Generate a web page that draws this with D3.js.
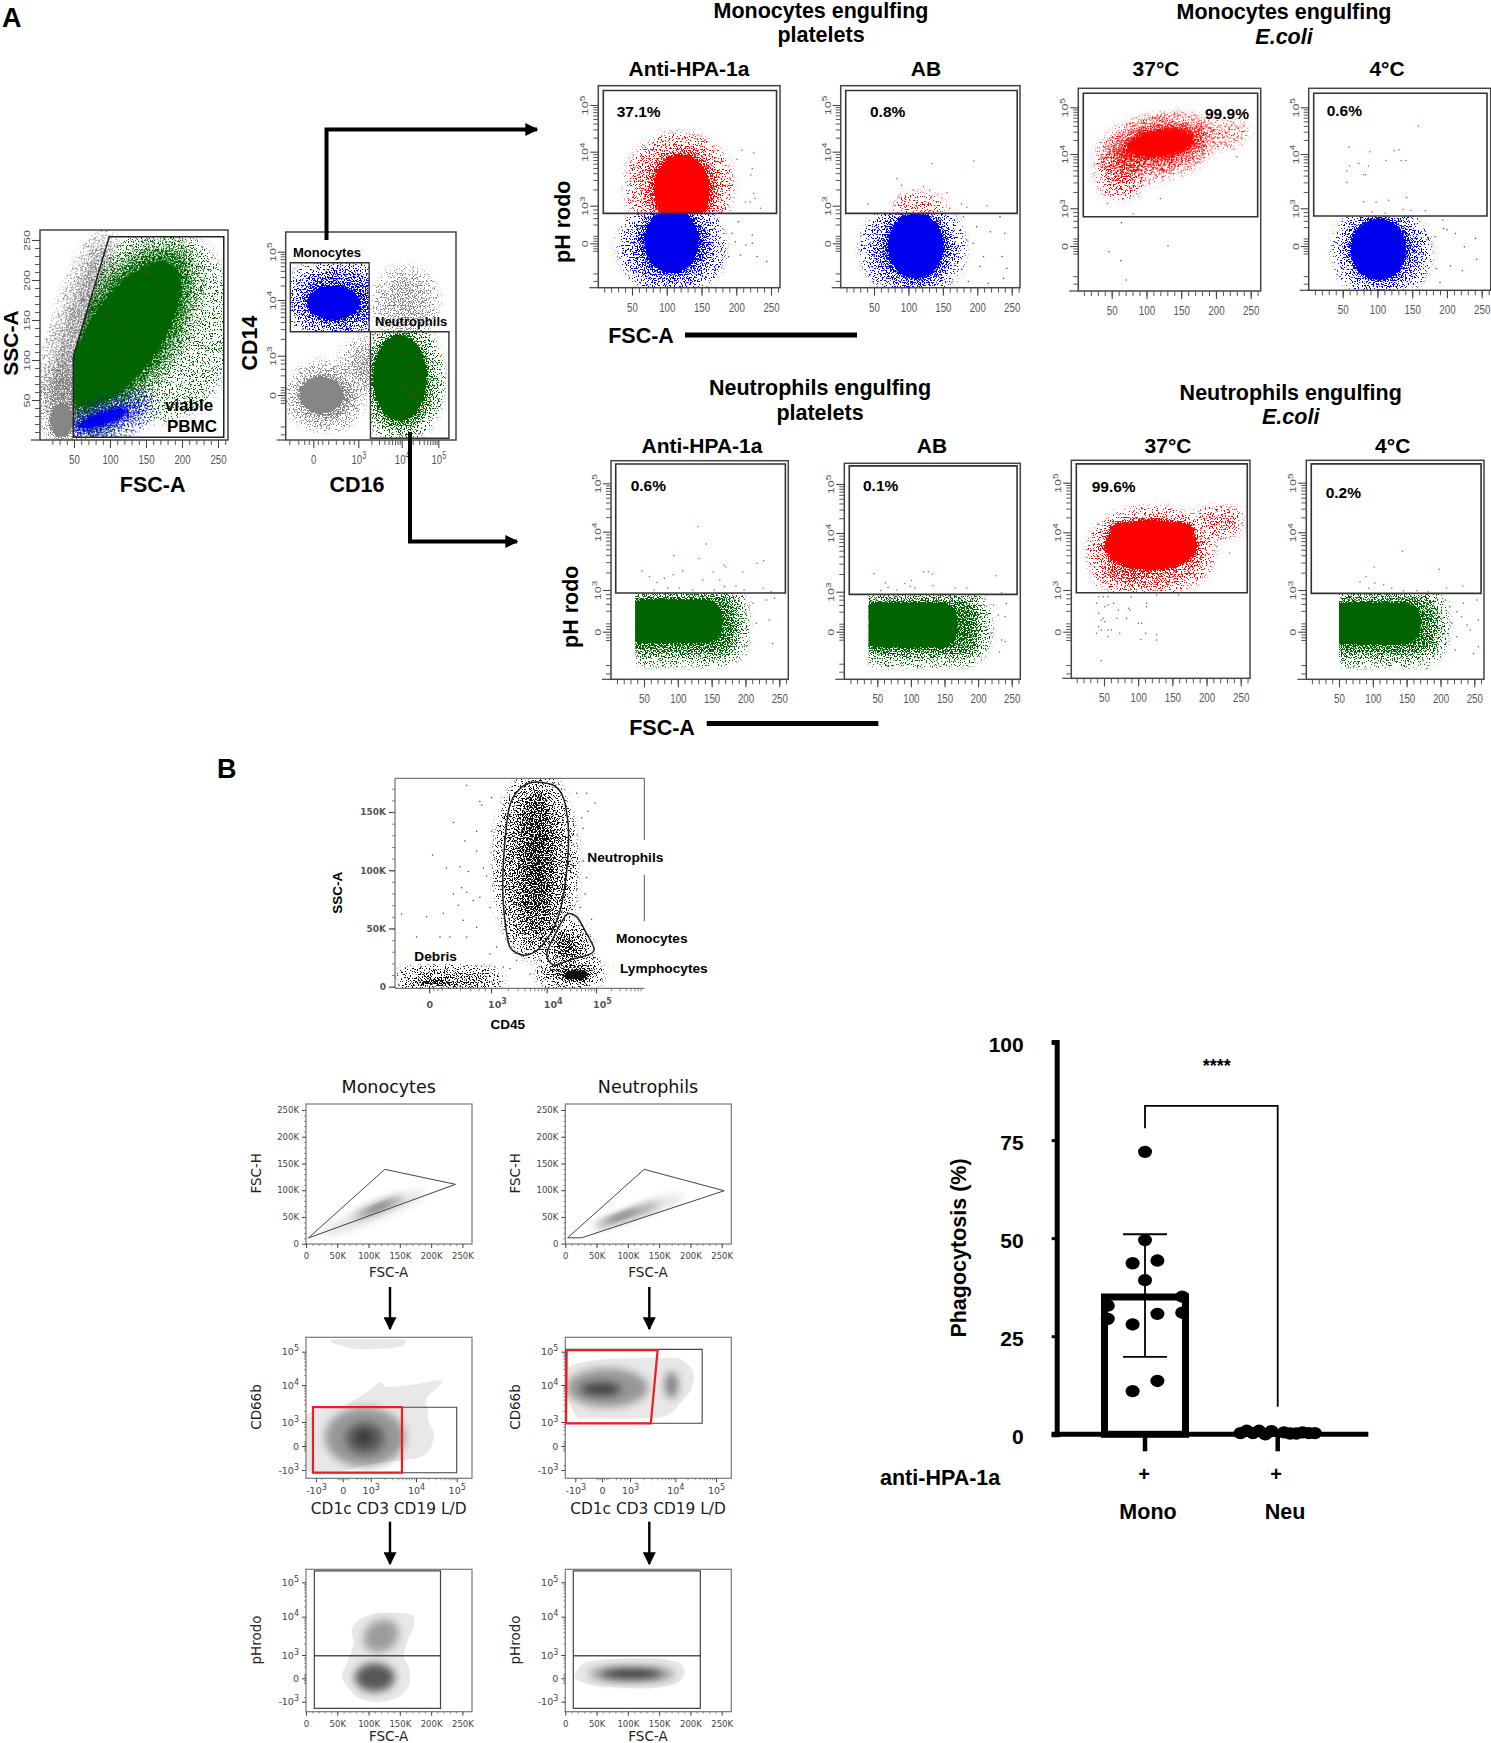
<!DOCTYPE html>
<html>
<head>
<meta charset="utf-8">
<title>Phagocytosis gating figure</title>
<script src="https://cdn.jsdelivr.net/npm/d3@7"></script>
<style>
  html, body { margin: 0; background: #fff; }
  svg { display: block; font-family: "Liberation Sans", Arial, sans-serif; }
</style>
</head>
<body>
<div id="chart"></div>
<script>
// ---- tick labels ----
const fscTicks = [50, 100, 150, 200, 250];
const fscMinor = d3.range(10, 261, 10);
const logTicks = [0, 3, 4, 5];
const logLabels = ['0', '10^3', '10^4', '10^5'];
const biexTicks = [-3, 0, 3, 4, 5];
const biexLabels = ['-10^3', '0', '10^3', '10^4', '10^5'];
const logMinor = [-3, -2.4, -0.6, -0.4, -0.2, 0.2, 0.4, 0.6, 1.5, 2, 2.4, 2.7]
  .concat(...[3, 4].map(d => [2, 3, 4, 5, 6, 7, 8, 9].map(k => d + Math.log10(k))));
const kTicks = [0, 50, 100, 150, 200, 250];
const kLabels = ['0', '50K', '100K', '150K', '200K', '250K'];

// ---- clouds: [xMin, xMax, yMin, yMax, rotation, density]; density 1 = solid core ----
// y values of the flow plots are in decades (3 = 10^3), 0 is the linear zero
const pbmcGray = [[-70, 181, 125, 167, -72, 0.8], [14, 70, 0, 90, 0, 0.9], [14, 52, 0, 50, 0, 1]];
const pbmcGreen = [[75, 265, 30, 260, 0, 0.22], [-20, 260, 70, 195, -56, 0.95], [0, 240, 84, 180, -56, 1], [50, 120, 5, 20, -15, 0.8]];
const pbmcBlue = [[40, 160, 10, 45, -20, 0.7], [50, 130, 17, 37, -18, 1]];
const cd14Gray = [[-1.3, 2.9, -2.1, 1.9, 0, 0.9], [2.2, 3.9, 0.5, 3.2, 0, 0.7], [3.5, 4.8, 3.43, 4.55, 0, 0.55], [-1.1, 2.2, -1.6, 1.6, 0, 1]];
const cd14Blue = [[-1.4, 3.6, 3.43, 4.7, 0, 0.7], [-1, 3.4, 3.5, 4.5, 0, 0.95], [-0.6, 3.1, 3.6, 4.35, 0, 1]];
const cd14Green = [[3.2, 4.9, -2.9, 3.5, 0, 0.9], [3.28, 4.75, -2.2, 3.42, 0, 1]];

const a1Blue = [[42, 172, -3.6, 3, 0, 0.6], [52, 163, -3, 3, 0, 0.95], [64, 150, -2.6, 2.9, 0, 1]];
const a1Red = [[50, 185, 1, 4.25, 0, 0.4], [68, 175, 1, 4.1, 0, 0.95], [78, 165, 1.2, 4, 0, 1]];
const a2Blue = [[42, 170, -3.6, 2.8, 0, 0.65], [55, 165, -3.4, 2.7, 0, 0.95], [66, 155, -3, 2.6, 0, 1]];
const a2Red = [[85, 147, 2.2, 3.1, 0, 0.4]];
const a3Red = [[35, 190, 3.65, 4.65, -14, 0.55], [55, 180, 3.85, 4.6, -10, 0.95], [70, 170, 3.92, 4.55, -8, 1], [38, 88, 3.3, 3.95, 0, 0.5], [165, 240, 4.25, 4.6, -4, 0.3]];
const a4Blue = [[49, 165, -3.6, 2.6, 0, 0.65], [52, 155, -3, 2.5, 0, 0.95], [58, 145, -2.9, 2.4, 0, 1]];

const a7Red = [[38, 200, 3.05, 4.35, 0, 0.6], [45, 130, 3.05, 3.9, 0, 0.75], [48, 190, 3.3, 4.3, 0, 1], [190, 243, 4.05, 4.35, 0, 0.75]];
const a5Bands = [[20, 190, -1.75, 2.8, 0.95], [20, 170, -1, 2.5, 1]];
const a6Bands = [[20, 205, -1.9, 2.6, 0.95], [20, 173, -1.37, 2.37, 1]];
const a7Bands = [[54, 186, 3.85, 4.25, 1]];
const a8Bands = [[30, 197, -1.8, 2.64, 0.95], [30, 175, -1.08, 2.28, 1]];

// ---- hand read events: [FSC, decade] ----
const pbmcRedDots = [[149,209],[105,215],[210,215],[246,227],[231,179],[220,147],[203,72],[149,108],[114,106],[84,85],[91,69],[100,158],[114,135],[144,121],[172,187],[186,246],[58,42],[105,48],[128,29],[146,62]];
const pbmcBlueDots = [[234,65],[151,54],[144,46]];
const cd14RedDots = [[4.23,3.22],[4.41,2.92],[4.59,2.67],[4.05,3.04],[4.32,1.9],[4.5,1.4],[4.18,0.64],[4.64,0.38],[4.36,-0.13],[4.23,-0.13],[4.73,-0.5],[4.55,-0.9],[4.41,-1.15],[4.32,-1.4],[4.59,-1.4],[4.5,-2],[3.35,3.37],[3.42,3.22],[3.96,3.31],[4.45,3.16],[4.14,2.16],[4.68,2.92],[4.55,-2.5]];
const a1RedDots = [[208,4.03],[225,3.98],[168,4.12],[201,3.86],[223,3.69],[221,3.57],[191,3.48],[225,3.23],[227,3.14],[220,3.07],[213,3.07],[235,2.8],[45,3.1],[52,3.17],[47,3.6],[64,3.88],[54,3.7]];
const a1BlueDots = [[203,1.72],[194,0.8],[199,0.13],[223,0.66],[230,-1.06],[244,-1.46],[214,-0.13],[206,-0.93],[223,0],[189,-1.06],[179,-0.53],[170,-2.12]];
const a2RedDots = [[134,3.78],[195,3.83],[83,3.5],[90,3.38],[107,3.29],[122,3.35],[131,3.29],[156,3.24],[41,3.03],[102,3.1],[177,3.03],[214,3],[185,2.87],[160,2.8]];
const a2BlueDots = [[180,2.12],[199,1.33],[219,0.93],[233,2.12],[240,0.8],[194,0],[236,-1.06],[243,-2],[238,-2.8],[209,-1.06],[180,-1.86],[204,-1.86],[170,-0.53],[185,0.27],[187,-3.05],[216,-3.18]];
const a3RedDots = [[81,2.55],[120,3.18],[44,3.09],[232,4.55],[240,4.6],[215,4.45],[226,4.1],[205,4.35],[195,4.5],[230,3.95],[185,4.42]];
const a3BlueDots = [[64,1.86],[46,-0.45],[63,-1.17],[71,-2.7],[75,-3.55],[131,0]];
const a4RedDots = [[159,4.6],[59,4.15],[89,4.05],[124,4.07],[131,4.09],[112,3.88],[134,3.88],[141,3.88],[73,3.83],[60,3.78],[87,3.78],[56,3.69],[80,3.62],[83,3.62],[56,3.48],[80,3.12],[98,3.11],[116,3.15],[142,3.2],[111,2.6],[137,2.9],[169,2.8],[148,2.85],[92,2.7]];
const a4BlueDots = [[194,2.07],[195,1.4],[200,1.3],[212,1],[241,0.6],[225,-0.05],[243,-1.06],[222,-1.96],[205,-1.6],[190,-2.9],[185,-1.8],[183,0.74],[178,-0.05],[171,0.5],[166,-0.6]];
const a5RedDots = [[130,4.1],[142,3.79],[131,3.54],[94,3.59],[47,3.33],[107,3.33],[93,3.26],[58,3.23],[80,3.2],[69,3.13],[168,3.43],[171,3.4],[196,3.31],[217,3.46],[227,3.5],[152,3.31],[137,3.17],[162,3.17],[169,3.06],[186,3.07],[226,3.03],[238,2.88],[122,3],[102,3.03],[65,3],[85,3.03],[154,3],[198,3]];
const a5GreenDots = [[201,1.32],[211,2.04],[231,2.28],[243,2.4],[240,-0.84],[201,-1.68],[235,0.84],[216,0.6],[191,2.28],[196,0.12],[184,-1.08],[61,-2.16],[38,-1.5],[132,-1.68]];
const a6RedDots = [[45,3.31],[126,3.34],[119,3.34],[132,3.3],[227,3.27],[62,3.15],[101,3.19],[91,3.14],[66,3.07],[99,3.09],[106,3.06],[133,3.1],[166,3.06],[183,3.06],[235,2.93],[55,3.02],[79,3.03]];
const a6GreenDots = [[242,2.12],[223,2],[230,1.25],[240,1.12],[220,-0.12],[235,-0.62],[240,-0.75],[232,-1.5],[195,-2.12],[153,-2.5],[205,1.12],[213,0.37]];
const a7RedDots = [[234,3.64],[205,3.32],[181,3.12],[125,3],[88,3],[39,3.08],[225,3.9],[215,3.75]];
const a7GreenDots = [[42,2.52],[49,2.52],[56,2.52],[39,2.04],[51,1.8],[56,1.92],[42,1.32],[49,0.96],[46,0.84],[51,0.72],[42,0.36],[46,0.12],[56,0.12],[61,0.12],[39,-0.12],[56,-0.36],[71,1.56],[69,0.96],[86,1.68],[88,1.56],[83,0.96],[90,2.52],[112,2.04],[112,1.8],[100,0.6],[105,0.6],[111,-0.12],[104,-0.55],[127,-0.24],[127,-0.6],[46,-2.09],[127,2.64],[159,2.64],[64,2.04],[73,-0.12]];
const a8RedDots = [[144,3.67],[102,3.4],[198,3.36],[90,3.23],[81,3.14],[103,3.12],[116,3.09],[94,3.03],[128,3.03],[145,2.95],[165,2.95],[182,2.88],[209,3.03],[233,3.07]];
const a8GreenDots = [[197,2.04],[214,1.8],[234,2.04],[254,2.28],[256,0.84],[244,0.12],[224,-0.36],[256,-1.08],[249,-1.56],[222,-1.32],[200,-1.8],[180,-2.64],[217,0.6],[204,0.36],[231,1.08],[239,0.48],[209,1.32],[224,1.44]];

// ---- panel B top scatter ----
const ssc45Ticks = [0, 50, 100, 150];
const ssc45Labels = ['0', '50K', '100K', '150K'];
const ssc45Clouds = [[3.2, 4.45, 30, 178, 0, 0.6], [3.35, 4.3, 38, 175, 0, 0.8], [3.5, 4.15, 52, 165, 0, 0.98], [3.6, 4.05, 65, 150, 0, 0.98], [4.05, 4.75, 18, 50, 0, 0.8], [3.95, 5, 3, 22, 0, 0.85], [4.27, 4.91, 4, 16, 0, 1], [-1.5, 3.1, 0, 10, 0, 0.95], [-0.9, 1.5, 1, 7, 0, 1]];
const ssc45Dots = [[1.82,172.7],[1.17,141],[2.46,159],[3.01,162.5],[2.54,156],[2.3,133.5],[1.73,125],[3.01,133.5],[0.16,113],[1.49,103],[0.84,102],[1.9,99],[2.63,102],[2.79,95],[1.17,79.5],[1.57,85],[1.82,81],[1.41,70],[2.14,74],[0.68,63],[-0.13,60],[-0.62,42.6],[0.52,42.6],[1.65,57],[2.3,51],[2.95,68],[-1.35,62.5],[2.3,116.5],[2.46,76.7],[4.61,166],[4.81,166],[4.98,157.7],[4.71,145],[4.54,130.7],[4.81,93.8],[4.61,83.8],[4.78,79.5],[4.91,58],[4.68,68],[4.74,136],[4.84,150.6],[4.47,108],[4.74,108],[5.01,11],[2.95,28],[3.1,34],[3.22,17],[3.34,15.6],[3.46,22.7],[3.7,11],[3.07,17],[2.79,8.5],[3.88,22.7],[4.07,21.3],[1.82,42.6],[1,42.6]];
const neutroGate = [[3.76,175.6],[4.135,173],[4.34,162],[4.44,136],[4.405,99],[4.27,65],[4.07,45],[3.82,31],[3.58,27],[3.34,34],[3.25,57],[3.21,85],[3.25,125],[3.34,156],[3.52,170]];
const monoGate = [[4.405,62],[4.61,60],[4.78,48],[4.96,33],[4.88,28],[4.47,23],[4.17,18.5],[4.03,23],[4.01,30],[4.17,45]];

// ---- density plots: blobs [xMin, xMax, yMin, yMax, rotation, shade], outlines in data units ----
const monoFscBlobs = [[17, 198, 44, 70, -22, 0.12], [73, 159, 62, 76, -22, 0.4], [95, 137, 67, 71, -24, 0.8]];
const neuFscBlobs = [[41, 195, 48, 72, -20, 0.12], [42, 154, 48, 59, -20, 0.45], [63, 117, 51, 56, -20, 0.65]];
const monoFscGate = [[3.7,10.6],[126,139],[239,111]];
const neuFscGate = [[3.7,11],[126,139],[254,99],[26,11]];
const monoCd66Outline = [[-4.12,-2.6],[-4.12,3.14],[-1.4,3.41],[0.25,3.46],[2.93,3.86],[3.2,4.09],[3.35,3.95],[3.87,4],[4.59,4.15],[4.59,4],[4.26,3.64],[4.3,3.23],[4.3,3.05],[4.44,1.58],[4.34,-0.5],[4.02,-1.54],[3.13,-2.17],[-0.3,-3.2],[-3.1,-3.33]];
const monoCd66Cap = [[-1.05,5.37],[3.7,5.37],[3.72,5.2],[3.42,5.1],[1.57,5.07],[-0.3,5.2],[-1,5.25]];
const monoCd66Blobs = [[-2, 3.76, -2.6, 3.4, 0, 0.35], [0.3, 3.3, -1, 2.9, 0, 0.4], [1.4, 3, 0.2, 2, 0, 0.4]];
const neuCd66Outline = [[-3.97,4.5],[-0.6,4.75],[3,4.8],[4.03,4.8],[4.36,4.55],[4.46,4.25],[4.36,3.82],[4.07,3.46],[3.99,3.32],[3.73,3.14],[3.42,3.1],[-1.8,3.1],[-2.85,3.14],[-3.97,3.7]];
const neuCd66Blobs = [[-4, 3.4, 3.4, 4.5, 0, 0.35], [-2.36, 2, 3.72, 4.06, 0, 0.6], [3.77, 4.07, 3.64, 4.4, 0, 0.45]];
const monoPhOutline = [[57,0.43],[65,1.93],[76,3.3],[73,3.65],[84,3.91],[113,4.1],[156,4.1],[172,4],[172,3.74],[161,3.3],[156,2.79],[164,1.5],[166,-0.64],[150,-2.36],[113,-3.1],[81,-2.36],[62,-0.64]];
const monoPhBlobs = [[78, 142, -1.7, 1.93, 0, 0.62], [90, 150, 3.1, 3.9, -35, 0.32]];
const neuPhOutline = [[15,0.43],[29,1.93],[66,2.44],[146,2.57],[183,1.93],[191,0.64],[178,-0.64],[135,-1.29],[61,-1.07],[23.5,-0.43]];
const neuPhBlobs = [[37, 175, -0.5, 1.6, 0, 0.35], [58, 154, 0.13, 1, 0, 0.8]];

// ---- bar chart ----
const barGroups = ['Mono', 'Neu'];
const barMeans = [35, 0];
const monoErr = [19.75, 51];
const monoPhago = [72, 49.5, 43.6, 44.3, 39.3, 35.1, 32.8, 29.4, 30.7, 31, 28, 13.6, 11];
const monoColumn = [0, 0, -1, 1, 0, 3, -3, -3, 1, 3, -1, 1, -1];
const neuPhago = [0.3, 0.9, 0.3, 0.9, 0.8, 0, 0.2, 0.5, 0.3, 0.3, 0.5, 0.2];
const neuColumn = [-3, -2.5, -2, -1.5, -0.5, -1, 1, 2, 2.5, 3, 0.5, 1.5];
const phagoTicks = [0, 25, 50, 75, 100];

// ---- setup ----
const W = 1491, H = 1743;
const svg = d3.select('#chart').append('svg').attr('width', W).attr('height', H);
const defs = svg.append('defs');
const FLOW = { red: '#ff0000', blue: '#0000f0', green: '#006400', gray: '#868686', black: '#111111' };

// speckled texture so a blurred ellipse reads like a cloud of single events
// alpha = gain * blurred + grain - 1, grain stays in 0..1 so nothing shows outside the ellipse
function speckle(id, color, sigma, slope, offset, gain) {
  const f = defs.append('filter').attr('id', id)
    .attr('x', '-100%').attr('y', '-100%').attr('width', '300%').attr('height', '300%')
    .attr('color-interpolation-filters', 'sRGB');
  f.append('feGaussianBlur').attr('in', 'SourceAlpha').attr('stdDeviation', sigma).attr('result', 'soft');
  f.append('feTurbulence').attr('type', 'fractalNoise').attr('baseFrequency', 0.75)
    .attr('numOctaves', 1).attr('seed', 7).attr('result', 'noise');
  f.append('feColorMatrix').attr('in', 'noise').attr('type', 'matrix')
    .attr('values', `0 0 0 0 0  0 0 0 0 0  0 0 0 0 0  ${slope} 0 0 0 ${offset}`).attr('result', 'grain');
  f.append('feComposite').attr('in', 'soft').attr('in2', 'grain').attr('operator', 'arithmetic')
    .attr('k1', 0).attr('k2', gain).attr('k3', 1).attr('k4', -1).attr('result', 'mix');
  f.append('feComponentTransfer').attr('in', 'mix').attr('result', 'hard')
    .append('feFuncA').attr('type', 'linear').attr('slope', 14);
  f.append('feFlood').attr('flood-color', color).attr('result', 'paint');
  f.append('feComposite').attr('in', 'paint').attr('in2', 'hard').attr('operator', 'in');
}
Object.keys(FLOW).forEach(k => {
  speckle(`halo-${k}`, FLOW[k], 7, 5, -2.15, 1);
  speckle(`core-${k}`, FLOW[k], 3, 3, -1.2, 1.3);
});
const blur = defs.append('filter').attr('id', 'smooth').attr('x', '-100%').attr('y', '-100%').attr('width', '300%').attr('height', '300%');
blur.append('feGaussianBlur').attr('stdDeviation', 4);
const blurEdge = defs.append('filter').attr('id', 'edge');
blurEdge.append('feGaussianBlur').attr('stdDeviation', 0.7);
defs.append('marker').attr('id', 'tip').attr('markerUnits', 'userSpaceOnUse')
  .attr('viewBox', '0 0 10 10').attr('refX', 9).attr('refY', 5)
  .attr('markerWidth', 13).attr('markerHeight', 13).attr('orient', 'auto')
  .append('path').attr('d', 'M0,0L10,5L0,10Z').attr('fill', '#000');

function txt(x, y, s, o = {}) {
  const t = svg.append('text').attr('x', x).attr('y', y).text(s)
    .attr('font-size', o.size || 21.5).attr('font-weight', o.weight || 'bold')
    .attr('text-anchor', o.anchor || 'middle').attr('fill', o.fill || '#000');
  if (o.italic) t.attr('font-style', 'italic');
  if (o.family) t.attr('font-family', o.family);
  if (o.rot) t.attr('transform', `rotate(${o.rot},${x},${y})`);
  return t;
}

// "10^3" -> 10 + raised 3
function powLabel(sel, labels, small) {
  sel.selectAll('.tick text').each(function (d, i) {
    const t = d3.select(this).text(null);
    const p = labels[i].split('^');
    t.append('tspan').text(p[0]);
    if (p[1]) t.append('tspan').attr('dy', '-0.5em').attr('font-size', small).text(p[1]);
  });
}

function clipFrom(poly, xs, ys, id) {
  defs.append('clipPath').attr('id', id).append('polygon')
    .attr('points', poly.map(d => `${xs(d[0])},${ys(d[1])}`).join(' '));
}

// ellipse extents are in data units, the axes are piecewise so work from the pixel ends
const midX = (xs, d) => (xs(d[0]) + xs(d[1])) / 2;
const midY = (ys, d) => (ys(d[2]) + ys(d[3])) / 2;

let clipCount = 0;
function drawLayer(box, xs, ys, layer) {
  const id = `clip${clipCount++}`;
  if (layer.clip) clipFrom(layer.clip, xs, ys, id);
  else defs.append('clipPath').attr('id', id).append('rect')
    .attr('x', box[0]).attr('y', box[1]).attr('width', box[2] - box[0]).attr('height', box[3] - box[1]);
  const g = svg.append('g').attr('clip-path', `url(#${id})`);
  g.selectAll('rect.band').data(layer.bands || []).join('rect').attr('class', 'band')
    .attr('x', d => xs(d[0])).attr('y', d => ys(d[3]))
    .attr('width', d => xs(d[1]) - xs(d[0])).attr('height', d => ys(d[2]) - ys(d[3]))
    .attr('rx', 20).attr('fill', FLOW[layer.color]).attr('fill-opacity', d => d[4])
    .attr('filter', d => `url(#${d[4] === 1 ? 'core' : 'halo'}-${layer.color})`);
  g.selectAll('ellipse').data(layer.clouds || []).join('ellipse')
    .attr('cx', d => midX(xs, d)).attr('cy', d => midY(ys, d))
    .attr('rx', d => Math.abs(xs(d[1]) - xs(d[0])) / 2).attr('ry', d => Math.abs(ys(d[2]) - ys(d[3])) / 2)
    .attr('transform', d => `rotate(${d[4]},${midX(xs, d)},${midY(ys, d)})`)
    .attr('fill', FLOW[layer.color]).attr('fill-opacity', d => d[5])
    .attr('filter', d => `url(#${d[5] === 1 ? 'core' : 'halo'}-${layer.color})`);
  svg.selectAll(null).data(layer.dots || []).join('circle')
    .attr('cx', d => xs(d[0])).attr('cy', d => ys(d[1])).attr('r', 0.75)
    .attr('fill', FLOW[layer.color]).attr('fill-opacity', 0.8);
}

function axisStyle(sel, color, width) {
  sel.select('.domain').remove();
  sel.selectAll('line').attr('stroke', color).attr('stroke-width', width);
}

// frame + ticks of the FACS panels in part A
function flowAxes(box, xs, ys, cfg) {
  svg.append('rect').attr('x', box[0]).attr('y', box[1]).attr('width', box[2] - box[0]).attr('height', box[3] - box[1])
    .attr('fill', 'none').attr('stroke', '#444').attr('stroke-width', 1.5);
  svg.append('line').attr('x1', box[0] - 9).attr('x2', box[0]).attr('y1', box[3]).attr('y2', box[3]).attr('stroke', '#444').attr('stroke-width', 1.2);
  const bx = svg.append('g').attr('transform', `translate(0,${box[3]})`);
  bx.append('g').call(d3.axisBottom(xs).tickValues(cfg.xMinor).tickSize(5).tickFormat('')).call(axisStyle, '#555', 1);
  const gx = bx.append('g').call(d3.axisBottom(xs).tickValues(cfg.xTicks).tickSize(8).tickFormat((d, i) => cfg.xLabels[i]));
  gx.call(axisStyle, '#444', 1.1);
  // the original tick text is squashed sideways on both axes (narrow glyphs, flat when rotated)
  gx.selectAll('text').attr('font-size', 13.5).attr('fill', '#555').attr('y', 16).attr('dy', '0.6em').attr('transform', 'scale(0.72,1)');
  if (cfg.xLabels.some(l => l.includes('^'))) powLabel(gx, cfg.xLabels, 10);
  const ly = svg.append('g').attr('transform', `translate(${box[0]},0)`);
  ly.append('g').call(d3.axisLeft(ys).tickValues(cfg.yMinor).tickSize(cfg.yMinorSize || 5).tickFormat('')).call(axisStyle, '#555', 1);
  const gy = ly.append('g').call(d3.axisLeft(ys).tickValues(cfg.yTicks).tickSize(8).tickFormat((d, i) => cfg.yLabels[i]));
  gy.call(axisStyle, '#444', 1.1);
  gy.selectAll('text').attr('transform', 'rotate(-90) scale(1,0.72)').attr('x', 0).attr('y', -14).attr('dy', 0)
    .attr('text-anchor', 'middle').attr('font-size', 12.5).attr('fill', '#555');
  if (cfg.yLabels.some(l => l.includes('^'))) powLabel(gy, cfg.yLabels, 10);
}

// ---- A: viable PBMC and CD14/CD16 ----
{
  const box = [40, 230, 228, 440];
  const xs = d3.scaleLinear().domain([50, 250]).range([74, 218]);
  const ys = d3.scaleLinear().domain([0, 250]).range([440, 240]);
  const gate = [[49, 3.3], [49, 104], [99, 254], [258, 254], [258, 3.3]];
  drawLayer(box, xs, ys, { color: 'gray', clouds: pbmcGray });
  drawLayer(box, xs, ys, { color: 'green', clouds: pbmcGreen, clip: gate });
  drawLayer(box, xs, ys, { color: 'blue', clouds: pbmcBlue, dots: pbmcBlueDots, clip: gate });
  drawLayer(box, xs, ys, { color: 'red', dots: pbmcRedDots });
  flowAxes(box, xs, ys, { xTicks: fscTicks, xLabels: fscTicks.map(String), xMinor: fscMinor.slice(1), yTicks: fscTicks, yLabels: fscTicks.map(String), yMinor: d3.range(10, 260, 10) });
  svg.append('polygon').attr('points', gate.map(d => `${xs(d[0])},${ys(d[1])}`).join(' '))
    .attr('fill', 'none').attr('stroke', '#222').attr('stroke-width', 1.5);
  txt(17.5, 343, 'SSC-A', { rot: -90, size: 21 });
  txt(152.7, 491.7, 'FSC-A');
  txt(189, 410.7, 'viable', { size: 17 });
  txt(192, 431.7, 'PBMC', { size: 17 });
}
{
  const box = [285.7, 232, 456, 440];
  const xs = d3.scaleLinear().domain([0, 3, 4, 5]).range([313.3, 358.3, 401.7, 438.3]);
  const ys = d3.scaleLinear().domain([0, 3, 4, 5]).range([395, 355.7, 300, 251.7]);
  const monoRect = [[-1.53, 4.77], [3.25, 4.77], [3.25, 3.43], [-1.53, 3.43]];
  const neuRect = [[3.28, 3.43], [5.29, 3.43], [5.29, -3.3], [3.28, -3.3]];
  drawLayer(box, xs, ys, { color: 'gray', clouds: cd14Gray });
  drawLayer(box, xs, ys, { color: 'blue', clouds: cd14Blue, clip: monoRect });
  drawLayer(box, xs, ys, { color: 'green', clouds: cd14Green, clip: neuRect });
  drawLayer(box, xs, ys, { color: 'red', dots: cd14RedDots });
  const xMinor = [-1.6, -1, -0.6, -0.3, 0.3, 0.6, 1, 1.5, 2, 2.4, 2.7].concat(...[3, 4].map(d => [2, 3, 4, 5, 6, 7, 8, 9].map(k => d + Math.log10(k))));
  flowAxes(box, xs, ys, { xTicks: logTicks, xLabels: logLabels, xMinor, yTicks: logTicks, yLabels: logLabels, yMinor: logMinor });
  [monoRect, neuRect].forEach(r => svg.append('polygon').attr('points', r.map(d => `${xs(d[0])},${ys(d[1])}`).join(' '))
    .attr('fill', 'none').attr('stroke', '#333').attr('stroke-width', 1.4));
  txt(257, 343, 'CD14', { rot: -90 });
  txt(357, 492, 'CD16');
  txt(293, 256.7, 'Monocytes', { size: 13, anchor: 'start' });
  txt(375, 326, 'Neutrophils', { size: 13, anchor: 'start' });
}

// ---- A: pHrodo panels ----
const panelsA = [
  { box: [598.3, 85.7, 780, 287.7], x: [632, 771], y: [243.3, 205.7, 151.7, 105], gate: [8.7, 258, 2.39, 5.31], minX: 0, pct: ['37.1%', 616.7, 117.3],
    under: { color: 'blue', clouds: a1Blue, dots: a1BlueDots }, upper: { color: 'red', clouds: a1Red, dots: a1RedDots } },
  { box: [840.7, 85.7, 1020, 287.7], x: [874, 1011.7], y: [243.3, 205.7, 151.7, 105], gate: [8.9, 258, 2.39, 5.31], minX: 0, pct: ['0.8%', 870, 117.3],
    under: { color: 'blue', clouds: a2Blue, dots: a2BlueDots }, upper: { color: 'red', clouds: a2Red, dots: a2RedDots } },
  { box: [1078.3, 88.3, 1260.7, 291], x: [1111.7, 1250.7], y: [246, 208.3, 154, 107.3], gate: [9.1, 260, 2.33, 5.3], minX: 0, pct: ['99.9%', 1205, 119],
    under: { color: 'blue', dots: a3BlueDots }, upper: { color: 'red', clouds: a3Red, dots: a3RedDots } },
  { box: [1308.7, 88.3, 1490.7, 290.3], x: [1342.7, 1481.7], y: [246, 208.3, 154, 107.3], gate: [8.3, 257.6, 2.39, 5.3], minX: 0, pct: ['0.6%', 1326.7, 116],
    under: { color: 'blue', clouds: a4Blue, dots: a4BlueDots }, upper: { color: 'red', dots: a4RedDots } },
  { box: [611, 460.7, 788.3, 679.3], x: [644, 779.3], y: [631.7, 590, 531.7, 483.3], gate: [8.2, 259, 2.78, 5.4], minX: 37, pct: ['0.6%', 630.7, 490.7],
    under: { color: 'green', bands: a5Bands, dots: a5GreenDots }, upper: { color: 'red', dots: a5RedDots } },
  { box: [844.3, 463.3, 1020.3, 679.3], x: [877.3, 1011.7], y: [631.7, 591.7, 533, 484], gate: [8.3, 258, 2.8, 5.37], minX: 37, pct: ['0.1%', 863, 490.7],
    under: { color: 'green', bands: a6Bands, dots: a6GreenDots }, upper: { color: 'red', dots: a6RedDots } },
  { box: [1071.3, 460.3, 1250, 678.3], x: [1104, 1240.7], y: [631.7, 590, 532.3, 482.7], gate: [9.5, 259.6, 2.8, 5.38], minX: 0, pct: ['99.6%', 1091.7, 492],
    under: { color: 'green', dots: a7GreenDots }, upper: { color: 'red', clouds: a7Red, bands: a7Bands, dots: a7RedDots } },
  { box: [1306.3, 460.3, 1484, 679.3], x: [1339, 1474.3], y: [631.7, 590, 532.3, 482.7], gate: [9, 260, 2.76, 5.38], minX: 50, pct: ['0.2%', 1325.7, 498],
    under: { color: 'green', bands: a8Bands, dots: a8GreenDots }, upper: { color: 'red', dots: a8RedDots } }
];

panelsA.forEach(p => {
  const xs = d3.scaleLinear().domain([50, 250]).range(p.x);
  const ys = d3.scaleLinear().domain(logTicks).range(p.y);
  const bottom = ys.invert(p.box[3]), g = p.gate;
  const upperClip = [[g[0], g[3]], [g[1], g[3]], [g[1], g[2]], [g[0], g[2]]];
  const underClip = [[p.minX || g[0] - 9, g[2]], [g[1] + 9, g[2]], [g[1] + 9, bottom], [p.minX || g[0] - 9, bottom]];
  drawLayer(p.box, xs, ys, Object.assign({}, p.under, { clip: underClip }));
  drawLayer(p.box, xs, ys, Object.assign({}, p.upper, { clip: upperClip }));
  flowAxes(p.box, xs, ys, { xTicks: fscTicks, xLabels: fscTicks.map(String), xMinor: fscMinor, yTicks: logTicks, yLabels: logLabels, yMinor: logMinor });
  svg.append('polygon').attr('points', upperClip.map(d => `${xs(d[0])},${ys(d[1])}`).join(' '))
    .attr('fill', 'none').attr('stroke', '#333').attr('stroke-width', 1.6);
  txt(p.pct[1], p.pct[2], p.pct[0], { size: 15.5, anchor: 'start' });
});

txt(2, 27, 'A', { size: 27, anchor: 'start' });
txt(821, 18, 'Monocytes engulfing');
txt(821, 41.7, 'platelets');
txt(1284, 19.3, 'Monocytes engulfing');
txt(1284, 44.3, 'E.coli', { italic: true });
txt(689, 75.7, 'Anti-HPA-1a', { size: 21 });
txt(926, 75.7, 'AB', { size: 21 });
txt(1156, 75.7, '37°C', { size: 21 });
txt(1387, 75.7, '4°C', { size: 21 });
txt(570, 221.7, 'pH rodo', { rot: -90 });
txt(641, 343, 'FSC-A');
svg.append('rect').attr('x', 685).attr('y', 332.5).attr('width', 172).attr('height', 5);

txt(820, 395, 'Neutrophils engulfing');
txt(820, 420, 'platelets');
txt(1290.7, 400, 'Neutrophils engulfing');
txt(1290.7, 424.3, 'E.coli', { italic: true });
txt(702, 453, 'Anti-HPA-1a', { size: 21 });
txt(932, 453, 'AB', { size: 21 });
txt(1168, 453, '37°C', { size: 21 });
txt(1392.7, 453, '4°C', { size: 21 });
txt(578, 606.7, 'pH rodo', { rot: -90 });
txt(662, 735, 'FSC-A');
svg.append('rect').attr('x', 706.7).attr('y', 721).attr('width', 171.6).attr('height', 5);

// gating arrows
svg.append('path').attr('d', 'M326.5,240V129.5H537').attr('fill', 'none').attr('stroke', '#000').attr('stroke-width', 4).attr('marker-end', 'url(#tip)');
svg.append('path').attr('d', 'M410,432V541.5H517').attr('fill', 'none').attr('stroke', '#000').attr('stroke-width', 4).attr('marker-end', 'url(#tip)');

// ---- B: SSC / CD45 ----
txt(217, 778, 'B', { size: 27, anchor: 'start' });
{
  const box = [395, 778.3, 644.3, 988.3];
  const xs = d3.scaleLinear().domain([0, 3, 4, 5]).range([429.3, 491, 546.7, 596]);
  const ys = d3.scaleLinear().domain([0, 150]).range([986.7, 812]);
  drawLayer(box, xs, ys, { color: 'black', clouds: ssc45Clouds, dots: ssc45Dots });
  svg.append('path').attr('d', `M${box[0]},${box[3]}V${box[1]}H${box[2]}V921`).attr('fill', 'none').attr('stroke', '#555').attr('stroke-width', 1);
  svg.append('rect').attr('x', 585).attr('y', 840).attr('width', 80).attr('height', 35).attr('fill', '#fff');
  svg.append('line').attr('x1', box[0]).attr('x2', box[2]).attr('y1', box[3]).attr('y2', box[3]).attr('stroke', '#555');
  const line = d3.line().x(d => xs(d[0])).y(d => ys(d[1])).curve(d3.curveCardinalClosed.tension(0.2));
  [neutroGate, monoGate].forEach(g => svg.append('path').attr('d', line(g)).attr('fill', 'none').attr('stroke', '#222').attr('stroke-width', 1.5));
  const gy = svg.append('g').attr('transform', `translate(${box[0]},0)`)
    .call(d3.axisLeft(ys).tickValues(ssc45Ticks).tickSize(6).tickFormat((d, i) => ssc45Labels[i]));
  gy.call(axisStyle, '#444', 1.2);
  gy.selectAll('text').attr('font-family', '"DejaVu Sans"').attr('font-size', 9).attr('font-weight', 'bold').attr('fill', '#555');
  svg.append('g').attr('transform', `translate(${box[0]},0)`)
    .call(d3.axisLeft(ys).tickValues(d3.range(0, 176, 10)).tickSize(3).tickFormat('')).call(axisStyle, '#666', 0.8);
  const gx = svg.append('g').attr('transform', `translate(0,${box[3]})`)
    .call(d3.axisBottom(xs).tickValues(logTicks).tickSize(5).tickFormat((d, i) => logLabels[i]));
  gx.call(axisStyle, '#444', 1.2);
  gx.selectAll('text').attr('font-family', '"DejaVu Sans"').attr('font-size', 9.5).attr('font-weight', 'bold').attr('fill', '#555').attr('y', 13).attr('dx', 6);
  powLabel(gx, logLabels, 8);
  gx.selectAll('.tick text').filter((d, i) => i === 0).attr('dx', 0);
  svg.append('g').attr('transform', `translate(0,${box[3]})`)
    .call(d3.axisBottom(xs).tickValues(logMinor.filter(d => d > 0).concat(...[5].map(d => [2, 3, 4, 5, 6, 7, 8].map(k => d + Math.log10(k))))).tickSize(3).tickFormat('')).call(axisStyle, '#666', 0.8);
  txt(341.7, 892.7, 'SSC-A', { size: 13.5, rot: -90 });
  txt(507.7, 1029.3, 'CD45', { size: 13.5 });
  txt(587.3, 861.7, 'Neutrophils', { size: 13.7, anchor: 'start' });
  txt(616, 943.3, 'Monocytes', { size: 13.7, anchor: 'start' });
  txt(620, 973.3, 'Lymphocytes', { size: 13.7, anchor: 'start' });
  txt(414.3, 961, 'Debris', { size: 13.7, anchor: 'start' });
}

// ---- B: density plots ----
const PANEL_LAB = '"DejaVu Sans", sans-serif';
function densityPanel(dx, row, cfg) {
  const box = [306 + dx, row.top, 472 + dx, row.bottom];
  const xs = d3.scaleLinear().domain(row.xDom).range(row.xRange.map(v => v + dx));
  const ys = d3.scaleLinear().domain(row.yDom).range(row.yRange);
  const id = `clip${clipCount++}`;
  defs.append('clipPath').attr('id', id).append('rect').attr('x', box[0]).attr('y', box[1]).attr('width', box[2] - box[0]).attr('height', box[3] - box[1]);
  const g = svg.append('g').attr('clip-path', `url(#${id})`);
  const outline = d3.line().x(d => xs(d[0])).y(d => ys(d[1])).curve(d3.curveCardinalClosed.tension(0.3));
  (cfg.outlines || []).forEach(o => g.append('path').attr('d', outline(o)).attr('fill', '#e8e8e8').attr('filter', 'url(#edge)'));
  g.selectAll('ellipse').data(cfg.blobs).join('ellipse')
    .attr('cx', d => midX(xs, d)).attr('cy', d => midY(ys, d))
    .attr('rx', d => Math.abs(xs(d[1]) - xs(d[0])) / 2).attr('ry', d => Math.abs(ys(d[2]) - ys(d[3])) / 2)
    .attr('transform', d => `rotate(${d[4]},${midX(xs, d)},${midY(ys, d)})`)
    .attr('fill', '#000').attr('fill-opacity', d => d[5]).attr('filter', 'url(#smooth)');
  svg.append('rect').attr('x', box[0]).attr('y', box[1]).attr('width', box[2] - box[0]).attr('height', box[3] - box[1])
    .attr('fill', 'none').attr('stroke', '#777').attr('stroke-width', 1.2);

  const styleLab = s => s.selectAll('text').attr('font-family', PANEL_LAB).attr('font-size', 8.5).attr('fill', '#444');
  const gx = svg.append('g').attr('transform', `translate(0,${box[3]})`)
    .call(d3.axisBottom(xs).tickValues(row.xTicks).tickSize(4).tickFormat((d, i) => row.xLabels[i]));
  gx.call(axisStyle, '#444', 1).call(styleLab);
  gx.selectAll('text').attr('y', 9);
  if (row.xLabels.some(l => l.includes('^'))) { powLabel(gx, row.xLabels, 8); gx.selectAll('text').attr('font-size', 9.5); }
  svg.append('g').attr('transform', `translate(0,${box[3]})`)
    .call(d3.axisBottom(xs).tickValues(row.xMinor).tickSize(2).tickFormat('')).call(axisStyle, '#666', 0.7);
  const gy = svg.append('g').attr('transform', `translate(${box[0]},0)`)
    .call(d3.axisLeft(ys).tickValues(row.yTicks).tickSize(4).tickFormat((d, i) => row.yLabels[i]));
  gy.call(axisStyle, '#444', 1).call(styleLab);
  if (row.yLabels.some(l => l.includes('^'))) { powLabel(gy, row.yLabels, 8); gy.selectAll('text').attr('font-size', 9.5); }
  svg.append('g').attr('transform', `translate(${box[0]},0)`)
    .call(d3.axisLeft(ys).tickValues(row.yMinor).tickSize(2).tickFormat('')).call(axisStyle, '#666', 0.7);

  (cfg.gates || []).forEach(q => svg.append('polygon').attr('points', q.pts.map(d => `${xs(d[0])},${ys(d[1])}`).join(' '))
    .attr('fill', 'none').attr('stroke', q.color).attr('stroke-width', q.width));
  txt(388.7 + dx, row.labelY, row.xTitle, { size: row.xTitleSize, weight: 'normal', family: PANEL_LAB, fill: '#222' });
  txt(262 - 1 + dx, row.yTitleY, row.yTitle, { size: 13.5, weight: 'normal', family: PANEL_LAB, fill: '#222', rot: -90 });
}

const rowFsc = { top: 1104, bottom: 1244, xDom: [0, 250], xRange: [306, 462.4], yDom: [0, 250], yRange: [1243.7, 1110],
  xTicks: kTicks, xLabels: kLabels, xMinor: d3.range(10, 260, 10), yTicks: kTicks, yLabels: kLabels, yMinor: d3.range(10, 260, 10),
  labelY: 1276.7, xTitle: 'FSC-A', xTitleSize: 13.5, yTitleY: 1173.3, yTitle: 'FSC-H' };
const rowCd66 = { top: 1337.3, bottom: 1478.3, xDom: biexTicks, xRange: [316, 342.7, 370.7, 416, 456.7], yDom: biexTicks, yRange: [1470, 1446, 1422, 1385, 1351.7],
  xTicks: biexTicks, xLabels: biexLabels, xMinor: logMinor, yTicks: biexTicks, yLabels: biexLabels, yMinor: logMinor,
  labelY: 1514, xTitle: 'CD1c CD3 CD19 L/D', xTitleSize: 15.4, yTitleY: 1407, yTitle: 'CD66b' };
const rowPh = { top: 1569.3, bottom: 1711.7, xDom: [0, 250], xRange: [306, 462.4], yDom: biexTicks, yRange: [1701.7, 1678.3, 1655, 1616.7, 1582.3],
  xTicks: kTicks, xLabels: kLabels, xMinor: d3.range(10, 260, 10), yTicks: biexTicks, yLabels: biexLabels, yMinor: logMinor,
  labelY: 1741, xTitle: 'FSC-A', xTitleSize: 13.5, yTitleY: 1640, yTitle: 'pHrodo' };
const NEU_DX = 259.3;

densityPanel(0, rowFsc, { blobs: monoFscBlobs, gates: [{ pts: monoFscGate, color: '#444', width: 1 }] });
densityPanel(NEU_DX, rowFsc, { blobs: neuFscBlobs, gates: [{ pts: neuFscGate, color: '#444', width: 1 }] });
densityPanel(0, rowCd66, { outlines: [monoCd66Outline, monoCd66Cap], blobs: monoCd66Blobs, gates: [
  { pts: [[-3.34, 3.4], [5, 3.4], [5, -3.34], [-3.34, -3.34]], color: '#444', width: 1.1 },
  { pts: [[-3.34, 3.4], [3.69, 3.4], [3.69, -3.34], [-3.34, -3.34]], color: '#ee1c25', width: 2.2 }] });
densityPanel(NEU_DX, rowCd66, { outlines: [neuCd66Outline], blobs: neuCd66Blobs, gates: [
  { pts: [[-4.04, 5.07], [4.66, 5.07], [4.66, 2.84], [-4.04, 2.84]], color: '#444', width: 1.1 },
  { pts: [[-3.97, 5.05], [3.61, 5.05], [3.46, 2.84], [-4.04, 2.84]], color: '#ee1c25', width: 2.2 }] });
densityPanel(0, rowPh, { outlines: [monoPhOutline], blobs: monoPhBlobs, gates: [
  { pts: [[13.3, 5.33], [215, 5.33], [215, -3.85], [13.3, -3.85]], color: '#444', width: 1.2 },
  { pts: [[13.3, 2.9], [215, 2.9]], color: '#444', width: 1 }] });
densityPanel(NEU_DX, rowPh, { outlines: [neuPhOutline], blobs: neuPhBlobs, gates: [
  { pts: [[12.8, 5.33], [215.8, 5.33], [215.8, -3.85], [12.8, -3.85]], color: '#444', width: 1.2 },
  { pts: [[12.8, 2.9], [215.8, 2.9]], color: '#444', width: 1 }] });

txt(388.7, 1092.7, 'Monocytes', { size: 17.5, weight: 'normal', family: PANEL_LAB, fill: '#111' });
txt(648, 1092.7, 'Neutrophils', { size: 17.5, weight: 'normal', family: PANEL_LAB, fill: '#111' });
[390, 649.3].forEach(ax => [[1287, 1329], [1521.7, 1564]].forEach(s => {
  svg.append('line').attr('x1', ax).attr('x2', ax).attr('y1', s[0]).attr('y2', s[1])
    .attr('stroke', '#000').attr('stroke-width', 2.4).attr('marker-end', 'url(#tip)');
}));

// ---- B: bar chart ----
{
  const x = d3.scalePoint().domain(barGroups).range([1145, 1277.7]);
  const y = d3.scaleLinear().domain([0, 100]).range([1434.3, 1042]);
  const col = d3.scaleLinear().domain([-1, 1]).range([-12.4, 12.4]);
  svg.selectAll('rect.bar').data(barGroups.slice(0, 1)).join('rect').attr('class', 'bar')
    .attr('x', d => x(d) - 40.5).attr('width', 81)
    .attr('y', (d, i) => y(barMeans[i])).attr('height', (d, i) => y(0) - y(barMeans[i]))
    .attr('fill', 'none').attr('stroke', '#000').attr('stroke-width', 7);
  const mx = x('Mono');
  svg.append('line').attr('x1', mx).attr('x2', mx).attr('y1', y(monoErr[0])).attr('y2', y(monoErr[1])).attr('stroke', '#000').attr('stroke-width', 1.8);
  monoErr.forEach(v => svg.append('line').attr('x1', mx - 22).attr('x2', mx + 22).attr('y1', y(v)).attr('y2', y(v)).attr('stroke', '#000').attr('stroke-width', 1.8));
  svg.selectAll('ellipse.mono').data(monoPhago).join('ellipse').attr('class', 'mono')
    .attr('cx', (d, i) => mx + col(monoColumn[i])).attr('cy', d => y(d)).attr('rx', 7).attr('ry', 6.2).attr('fill', '#000');
  svg.selectAll('ellipse.neu').data(neuPhago).join('ellipse').attr('class', 'neu')
    .attr('cx', (d, i) => x('Neu') + col(neuColumn[i])).attr('cy', d => y(d)).attr('rx', 7).attr('ry', 6.2).attr('fill', '#000');
  svg.append('path').attr('d', `M${mx},${y(78)}V${y(83.7)}H${x('Neu')}V${y(7)}`).attr('fill', 'none').attr('stroke', '#000').attr('stroke-width', 1.8);
  const gy = svg.append('g').attr('transform', 'translate(1056.7,0)')
    .call(d3.axisLeft(y).tickValues(phagoTicks).tickSize(5).tickPadding(28));
  gy.select('.domain').attr('stroke-width', 5);
  gy.selectAll('line').attr('stroke-width', 3);
  gy.selectAll('text').attr('font-size', 21).attr('font-weight', 'bold').attr('font-family', 'Liberation Sans').attr('dy', '0.45em').attr('fill', '#000');
  svg.append('line').attr('x1', 1051.7).attr('x2', 1368.3).attr('y1', y(0)).attr('y2', y(0)).attr('stroke', '#000').attr('stroke-width', 5);
  barGroups.forEach(g => svg.append('line').attr('x1', x(g)).attr('x2', x(g)).attr('y1', y(0)).attr('y2', y(0) + 17).attr('stroke', '#000').attr('stroke-width', 4.5));
  txt(966, 1248, 'Phagocytosis (%)', { rot: -90 });
  txt(1216.7, 1072, '****', { size: 18 });
  txt(880, 1485, 'anti-HPA-1a', { anchor: 'start' });
  txt(1144, 1481, '+', { size: 20 });
  txt(1276, 1481, '+', { size: 20 });
  txt(1148, 1519, 'Mono');
  txt(1285, 1519, 'Neu');
}
</script>
</body>
</html>
